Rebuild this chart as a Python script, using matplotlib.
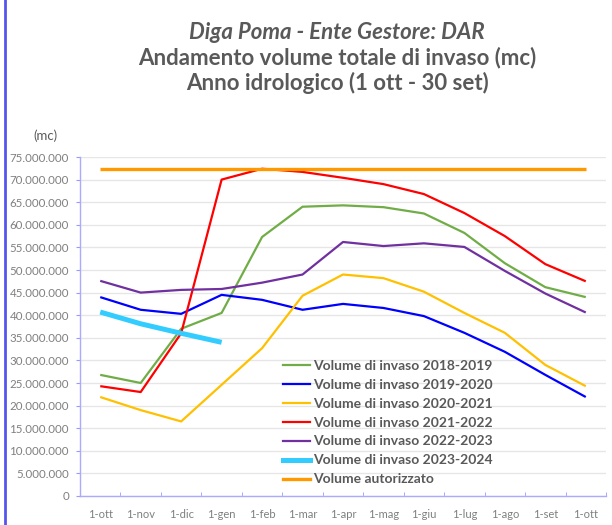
import matplotlib
matplotlib.use("Agg")
import matplotlib.pyplot as plt
from matplotlib.lines import Line2D

months = ["1-ott", "1-nov", "1-dic", "1-gen", "1-feb", "1-mar", "1-apr",
          "1-mag", "1-giu", "1-lug", "1-ago", "1-set", "1-ott"]

v2018_2019 = [26.8, 25.0, 37.0, 40.5, 57.3, 64.0, 64.3, 63.9, 62.5, 58.2, 51.5, 46.2, 44.0]
v2019_2020 = [44.0, 41.2, 40.3, 44.5, 43.4, 41.2, 42.5, 41.6, 39.8, 36.1, 31.9, 26.8, 21.9]
v2020_2021 = [21.9, 19.0, 16.5, 24.6, 32.7, 44.3, 49.0, 48.2, 45.2, 40.5, 36.1, 29.0, 24.3]
v2021_2022 = [24.3, 23.0, 36.0, 70.0, 72.4, 71.7, 70.4, 69.0, 66.8, 62.6, 57.5, 51.3, 47.5]
v2022_2023 = [47.6, 45.0, 45.6, 45.8, 47.2, 49.0, 56.2, 55.3, 55.9, 55.1, 49.8, 44.8, 40.6]
v2023_2024 = [40.7, 38.1, 36.0, 34.0]
v_autorizzato = [72.3] * 13

series = [
    ("Volume di invaso 2018-2019", v2018_2019, "#70ad47", 1.6),
    ("Volume di invaso 2019-2020", v2019_2020, "#0000ff", 1.6),
    ("Volume di invaso 2020-2021", v2020_2021, "#ffc000", 1.6),
    ("Volume di invaso 2021-2022", v2021_2022, "#ff0000", 1.6),
    ("Volume di invaso 2022-2023", v2022_2023, "#7030a0", 1.6),
    ("Volume di invaso 2023-2024", v2023_2024, "#33ccff", 3.6),
    ("Volume autorizzato", v_autorizzato, "#ff9900", 2.4),
]

plt.rcParams['font.family'] = ['Lato', 'DejaVu Sans']
fig = plt.figure(figsize=(6.12, 5.25), dpi=100)
ax = fig.add_axes([80/612, 29/525, 526/612, 339/525])

handles = []
for label, vals, color, lw in series:
    xs = list(range(len(vals)))
    ys = [v * 1e6 for v in vals]
    ax.plot(xs, ys, color=color, lw=lw, solid_capstyle='butt', zorder=3)
    handles.append(Line2D([0], [0], color=color, lw=lw, label=label))

ax.set_xlim(-0.5, 12.5)
ax.set_ylim(0, 75e6)
ax.set_yticks([i * 5e6 for i in range(16)])
ax.set_yticklabels([f"{i*5_000_000:,}".replace(",", ".") for i in range(16)],
                   fontsize=8.3, color="#7f7f7f")
ax.set_xticks(range(13))
ax.set_xticklabels(months, fontsize=8, color="#7f7f7f")
ax.set_xticks([i - 0.5 for i in range(14)], minor=True)
ax.tick_params(axis='x', which='major', length=0, pad=9)
ax.tick_params(axis='x', which='minor', length=3, color="#9999ff", direction='in')
ax.tick_params(axis='y', length=3, color="#9999ff", direction='out', pad=5)

ax.grid(axis='y', color="#e6e6e6", lw=1.0, zorder=0)
ax.set_axisbelow(True)
for s in ['top', 'right']:
    ax.spines[s].set_visible(False)
for s in ['left', 'bottom']:
    ax.spines[s].set_color("#aaaaff")
    ax.spines[s].set_linewidth(1.0)

leg = ax.legend(handles=handles, loc='upper left', bbox_to_anchor=(0.386, 0.402),
                frameon=False, fontsize=10, handlelength=1.95, handletextpad=0.2,
                labelspacing=0.5, borderaxespad=0, borderpad=0)
for t in leg.get_texts():
    t.set_color("#595959")
    t.set_fontweight('bold')

fig.text(0.551, 0.939, "Diga Poma - Ente Gestore: DAR", ha='center', va='center',
         fontsize=16, fontweight='bold', style='italic', color="#595959")
fig.text(0.551, 0.890, "Andamento volume totale di invaso (mc)", ha='center', va='center',
         fontsize=16, fontweight='bold', color="#595959")
fig.text(0.551, 0.842, "Anno idrologico (1 ott - 30 set)", ha='center', va='center',
         fontsize=16, fontweight='bold', color="#595959")
fig.text(45/612, 1 - 136/525, "(mc)", ha='center', va='center', fontsize=9.5,
         color="#595959")

fig.add_artist(Line2D([5/612, 5/612], [0, 1], color="#5555ee", lw=2.0,
                      transform=fig.transFigure))

fig.savefig("out.png", dpi=100, facecolor="white")
